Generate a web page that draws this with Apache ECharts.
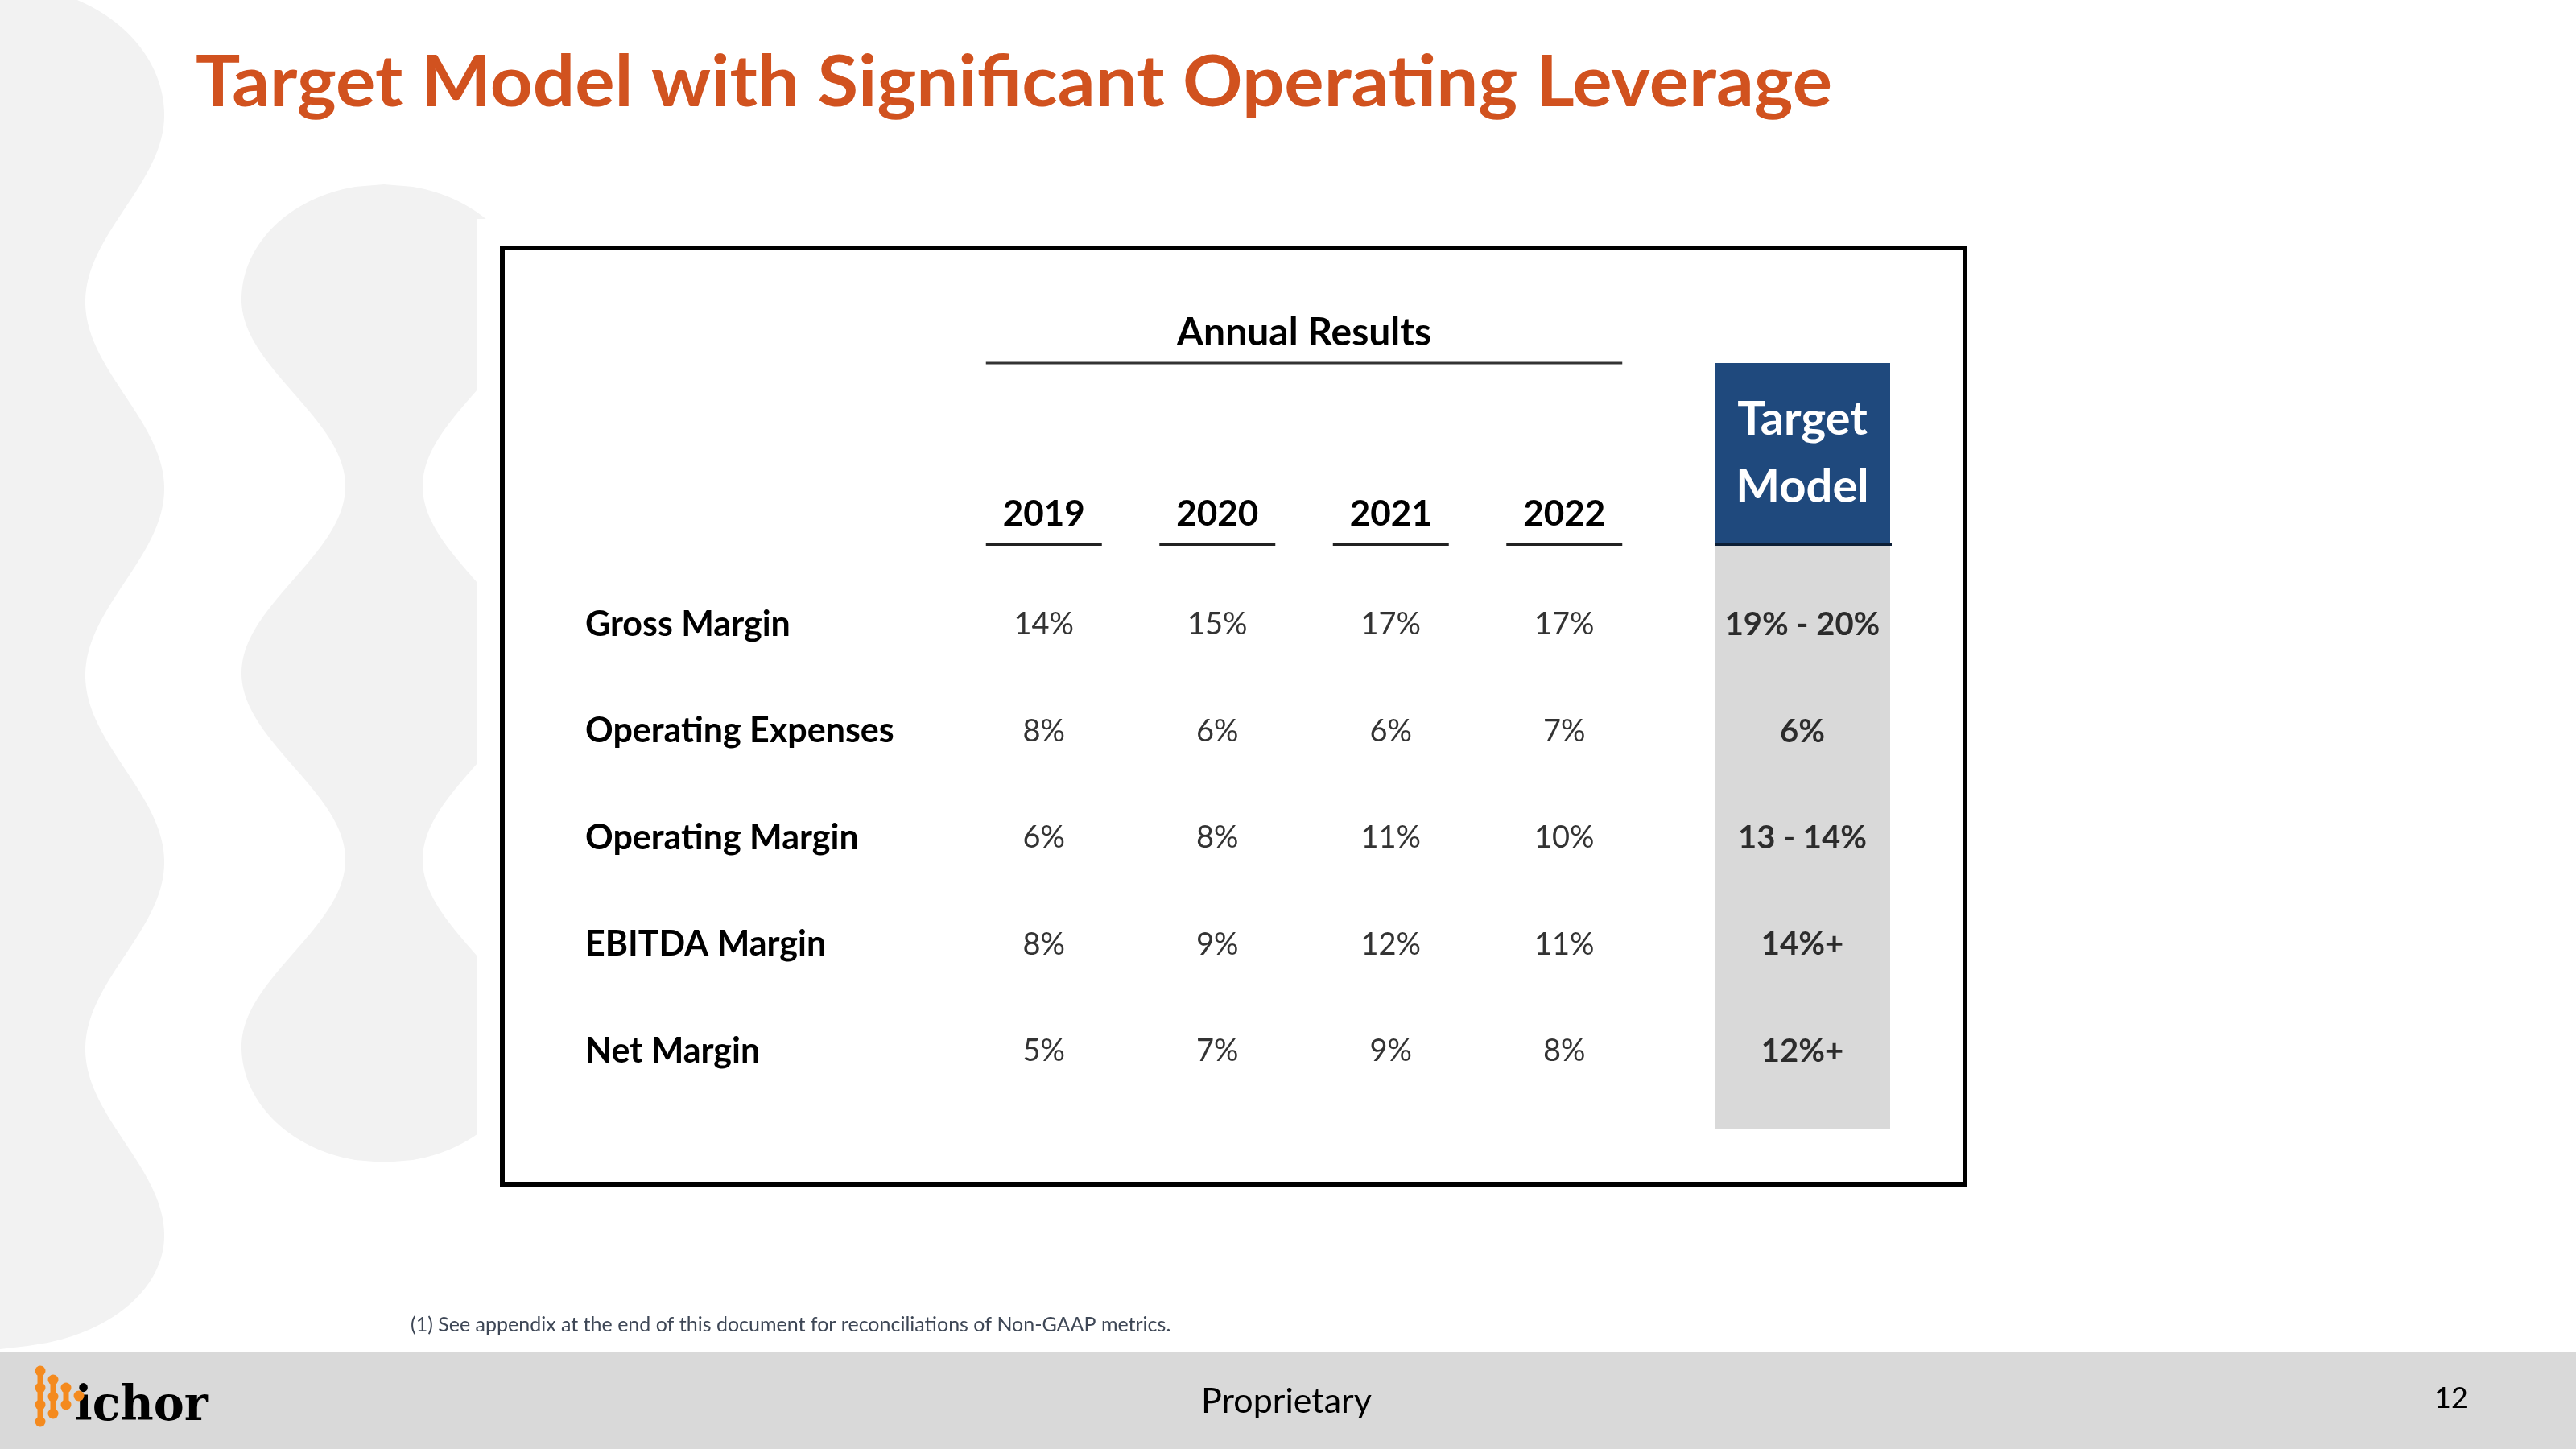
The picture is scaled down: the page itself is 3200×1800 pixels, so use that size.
<!DOCTYPE html>
<html><head><meta charset="utf-8">
<script src="https://cdn.jsdelivr.net/npm/echarts@6/dist/echarts.min.js"></script>
<style>html,body{margin:0;padding:0;background:#fff}#c{width:3200px;height:1800px}</style>
</head><body><div id="c"></div>
<script>
// ---- data ----
const years = ['2019', '2020', '2021', '2022'];
const metrics = ['Gross Margin', 'Operating Expenses', 'Operating Margin', 'EBITDA Margin', 'Net Margin'];
const v2019 = [14, 8, 6, 8, 5];
const v2020 = [15, 6, 8, 9, 7];
const v2021 = [17, 6, 11, 12, 9];
const v2022 = [17, 7, 10, 11, 8];
const targetModel = ['19% - 20%', '6%', '13 - 14%', '14%+', '12%+'];
const titleText = 'Target Model with Significant Operating Leverage';
const groupTitle = 'Annual Results';
const targetHeader = 'Target\nModel';
const footnote = '(1) See appendix at the end of this document for reconciliations of Non-GAAP metrics.';

// ---- build ----
const F = 'Lato';
const yearValues = [v2019, v2020, v2021, v2022];
const cellData = [];
years.forEach((yr, i) => metrics.forEach((m, j) => cellData.push([i, j, yearValues[i][j]])));
const targetData = targetModel.map((t, j) => [0, j]);

const chart = echarts.init(document.getElementById('c'), null, {renderer: 'canvas', width: 3200, height: 1800});

// background bubble chains
function leftChain() {
  const pts = [[0, 0]];
  for (let y = 0; y <= 1680; y += 4) {
    let x;
    if (y < 143) x = 204 * Math.sqrt(Math.max(0, 1 - Math.pow((143 - y) / 162, 2)));
    else if (y <= 1535) x = 155 + 49 * Math.cos(2 * Math.PI * (y - 143) / 464);
    else x = 204 * Math.sqrt(Math.max(0, 1 - Math.pow((y - 1535) / 139, 2)));
    pts.push([x, y]);
  }
  pts.push([0, 1680]);
  return pts;
}
function midChain() {
  const cx = 477, left = [], right = [];
  for (let y = 229; y <= 1444; y += 3) {
    let hw;
    if (y < 372) hw = 177 * Math.sqrt(Math.max(0, 1 - Math.pow((372 - y) / 143, 2)));
    else if (y <= 1300) hw = 112.5 + 64.5 * Math.cos(2 * Math.PI * (y - 372) / 464);
    else hw = 177 * Math.sqrt(Math.max(0, 1 - Math.pow((y - 1300) / 144, 2)));
    left.push([cx - hw, y]);
    right.push([cx + hw, y]);
  }
  return left.concat(right.reverse());
}

const shapeFill = '#F2F2F2';
const baseGraphic = [
  {id: 'bg1', type: 'polygon', z: 1, silent: true, shape: {points: leftChain()}, style: {fill: shapeFill}},
  {id: 'bg2', type: 'polygon', z: 1, silent: true, shape: {points: midChain()}, style: {fill: shapeFill}},
  {id: 'cut', type: 'rect', z: 2, silent: true, shape: {x: 592, y: 272, width: 1880, height: 1230}, style: {fill: '#fff'}},
  {id: 'frame', type: 'rect', z: 3, silent: true, shape: {x: 624, y: 308, width: 1817, height: 1163}, style: {fill: '#fff', stroke: '#000', lineWidth: 6}},
  {id: 'gray', type: 'rect', z: 4, silent: true, shape: {x: 2130, y: 678, width: 218, height: 725}, style: {fill: '#D9D9D9'}},
  {id: 'blue', type: 'rect', z: 4, silent: true, shape: {x: 2130, y: 451, width: 218, height: 225}, style: {fill: '#1F497D'}},
  {id: 'blueLine', type: 'line', z: 5, silent: true, shape: {x1: 2130, y1: 676, x2: 2350, y2: 676}, style: {stroke: '#0d1f36', lineWidth: 4}},
  {id: 'tgtTxt', type: 'text', z: 6, silent: true, style: {x: 2239, y: 563, text: targetHeader, textAlign: 'center', textVerticalAlign: 'middle', fill: '#fff', font: 'bold 58px ' + F, lineHeight: 84}},
  {id: 'annual', type: 'text', z: 6, silent: true, style: {x: 1620, y: 414, text: groupTitle, textAlign: 'center', textVerticalAlign: 'middle', fill: '#000', font: 'bold 48px ' + F}},
  {id: 'title', type: 'text', z: 6, silent: true, x: 243, y: 104, scaleX: 1.05, style: {x: 0, y: 0, text: titleText, textAlign: 'left', textVerticalAlign: 'middle', fill: '#D1521F', font: 'bold 88px ' + F}},
  {id: 'foot', type: 'text', z: 6, silent: true, style: {x: 510, y: 1646, text: footnote, textAlign: 'left', textVerticalAlign: 'middle', fill: '#3E4756', font: '25px ' + F}},
  {id: 'band', type: 'rect', z: 6, silent: true, shape: {x: 0, y: 1680, width: 3200, height: 120}, style: {fill: '#D9D9D9'}},
  {id: 'prop', type: 'text', z: 7, silent: true, style: {x: 1598, y: 1741, text: 'Proprietary', textAlign: 'center', textVerticalAlign: 'middle', fill: '#000', font: '43px ' + F}},
  {id: 'page', type: 'text', z: 7, silent: true, style: {x: 3045, y: 1737, text: '12', textAlign: 'center', textVerticalAlign: 'middle', fill: '#000', font: '36px ' + F}},
  {id: 'logo', type: 'text', z: 7, silent: true, x: 93, y: 1778, scaleX: 0.95, style: {x: 0, y: 0, text: 'ichor', textAlign: 'left', textVerticalAlign: 'bottom', fill: '#000', font: 'bold 60px "DejaVu Serif"'}}
];
// logo bubbles
const orange = '#F48A1E';
const cols = [[50, [1703, 1724, 1745, 1766]], [66, [1714, 1735, 1756]], [82, [1724, 1745]], [98, [1734]]];
cols.forEach((c, ci) => {
  const ys = c[1];
  if (ys.length > 1) baseGraphic.push({id: 'lr' + ci, type: 'rect', z: 7, silent: true, shape: {x: c[0] - 3.5, y: ys[0], width: 7, height: ys[ys.length - 1] - ys[0]}, style: {fill: orange}});
  ys.forEach((y, k) => baseGraphic.push({id: 'lc' + ci + '_' + k, type: 'circle', z: 8, silent: true, shape: {cx: c[0], cy: y, r: 6.5}, style: {fill: orange}}));
});

const option = {
  animation: false,
  backgroundColor: '#fff',
  grid: [
    {left: 1189, top: 710, width: 862, height: 662},
    {left: 2130, top: 710, width: 218, height: 662}
  ],
  xAxis: [
    {gridIndex: 0, type: 'category', data: years, position: 'top', z: 10,
     axisLine: {show: false}, axisTick: {show: false}, splitLine: {show: false},
     axisLabel: {interval: 0, margin: 71, verticalAlign: 'middle', fontFamily: F, fontSize: 44, fontWeight: 'bold', color: '#000'}},
    {gridIndex: 1, type: 'category', data: ['Target Model'], show: false}
  ],
  yAxis: [
    {gridIndex: 0, type: 'category', data: metrics, inverse: true, z: 10,
     axisLine: {show: false}, axisTick: {show: false}, splitLine: {show: false},
     axisLabel: {interval: 0, align: 'left', margin: 462, fontFamily: F, fontSize: 43, fontWeight: 'bold', color: '#000'}},
    {gridIndex: 1, type: 'category', data: metrics, inverse: true, show: false}
  ],
  series: [
    {type: 'scatter', xAxisIndex: 0, yAxisIndex: 0, data: cellData, symbolSize: 1, silent: true, z: 10,
     itemStyle: {color: 'rgba(0,0,0,0)'},
     label: {show: true, position: 'inside', formatter: p => p.value[2] + '%', fontFamily: F, fontSize: 38, color: '#000'}},
    {type: 'scatter', xAxisIndex: 1, yAxisIndex: 1, data: targetData, symbolSize: 1, silent: true, z: 10,
     itemStyle: {color: 'rgba(0,0,0,0)'},
     label: {show: true, position: 'inside', formatter: p => targetModel[p.dataIndex], fontFamily: F, fontSize: 40, fontWeight: 'bold', color: '#000'}}
  ],
  graphic: baseGraphic
};
chart.setOption(option);

// underlines derived from the axis scale
const extra = [];
years.forEach((yr, i) => {
  const px = chart.convertToPixel({xAxisIndex: 0}, yr);
  extra.push({id: 'ul' + i, type: 'line', z: 6, silent: true, shape: {x1: px - 72, y1: 676, x2: px + 72, y2: 676}, style: {stroke: '#222', lineWidth: 4}});
});
const x0 = chart.convertToPixel({xAxisIndex: 0}, years[0]) - 72;
const x1 = chart.convertToPixel({xAxisIndex: 0}, years[years.length - 1]) + 72;
extra.push({id: 'ulAnnual', type: 'line', z: 6, silent: true, shape: {x1: x0, y1: 451, x2: x1, y2: 451}, style: {stroke: '#333', lineWidth: 3}});
chart.setOption({graphic: extra});
</script>
</body></html>
